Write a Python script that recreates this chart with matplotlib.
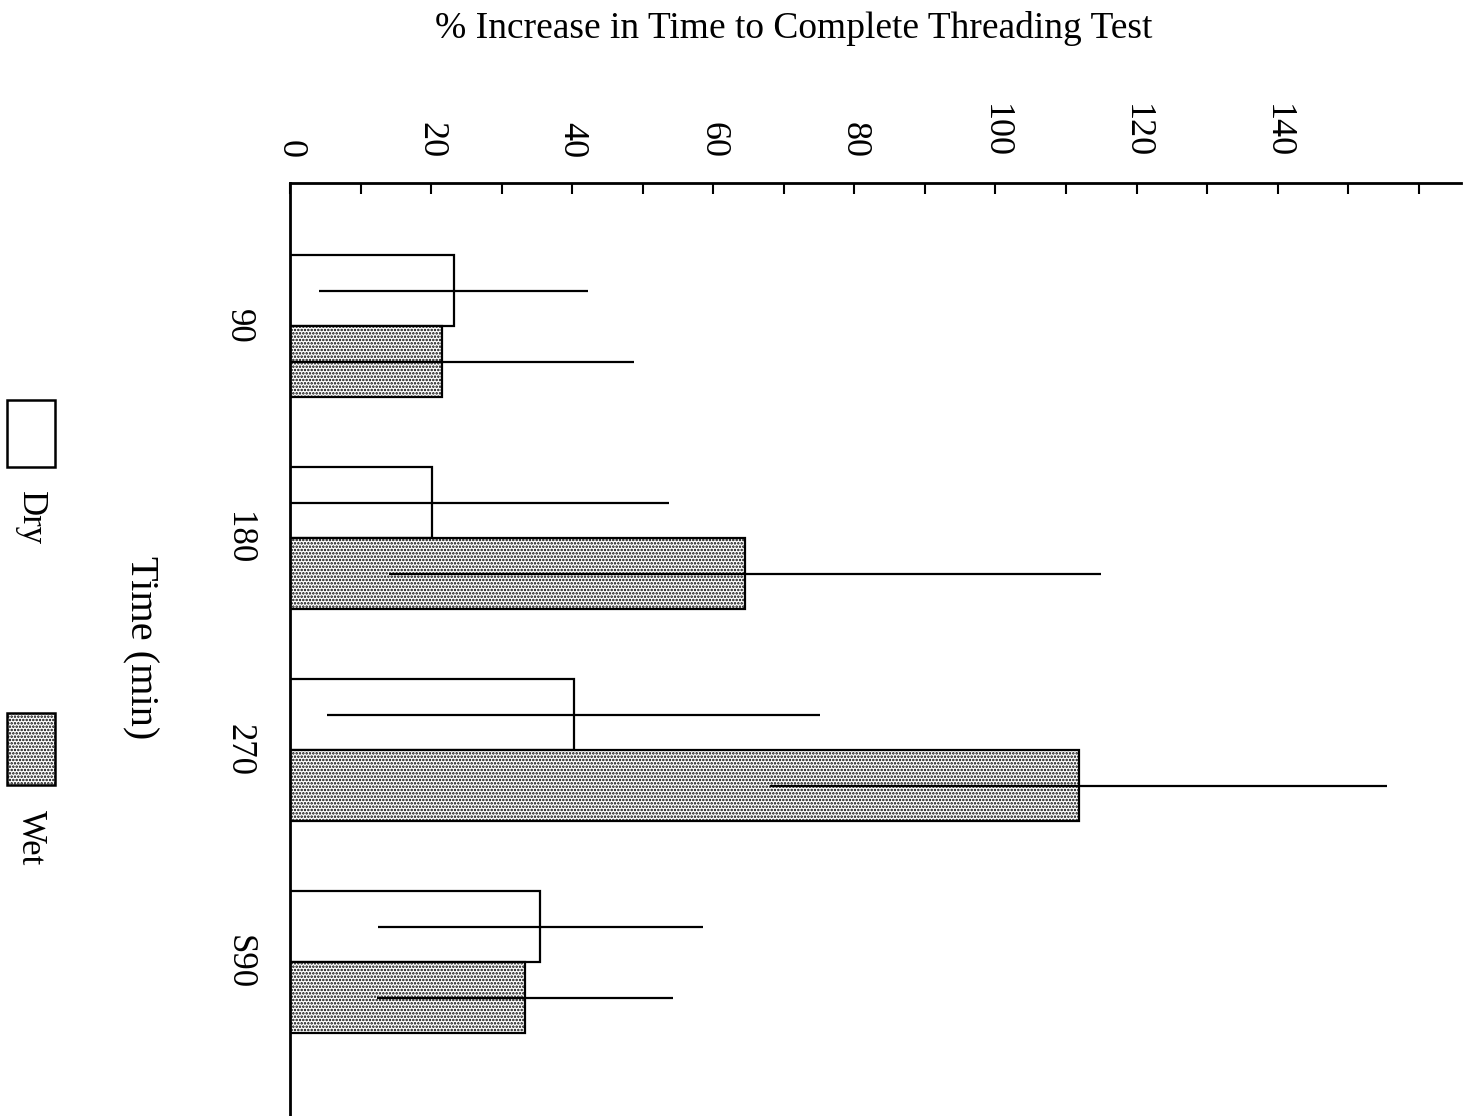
import matplotlib
matplotlib.use("Agg")
import matplotlib.pyplot as plt
from matplotlib.patches import Rectangle
import numpy as np

# Data: % increase in time to complete threading test
categories = ["90", "180", "270", "S90"]
dry_values = [23.2, 20.2, 40.2, 35.5]
wet_values = [21.6, 64.5, 111.8, 33.3]
dry_err = [19.1, 33.5, 35.0, 23.0]
wet_err = [27.1, 50.4, 43.7, 21.0]
x_ticks = [0, 20, 40, 60, 80, 100, 120, 140]

plt.rcParams["font.family"] = ["Liberation Serif", "DejaVu Serif"]
plt.rcParams["hatch.linewidth"] = 1.2
plt.rcParams["hatch.color"] = "#333333"
WET_HATCH = "....."

fig = plt.figure(figsize=(14.71, 11.16), dpi=100)
ax = fig.add_axes([290 / 1471, 0.0, (1461 - 290) / 1471, 1 - 183 / 1116])

pos = np.arange(len(categories))
h = 0.335
ax.barh(pos - h / 2, dry_values, height=h, facecolor="white",
        edgecolor="black", linewidth=1.6, zorder=2)
ax.barh(pos + h / 2, wet_values, height=h, facecolor="white",
        edgecolor="black", linewidth=1.6, hatch=WET_HATCH, zorder=2)
ax.errorbar(dry_values, pos - h / 2, xerr=dry_err, fmt="none",
            ecolor="black", elinewidth=1.6, capsize=0, zorder=3)
ax.errorbar(wet_values, pos + h / 2, xerr=wet_err, fmt="none",
            ecolor="black", elinewidth=1.6, capsize=0, zorder=3)

ax.set_xlim(0, 166)
ax.set_ylim(3.726, -0.675)

# top axis with ticks every 10, labels every 20
ax.xaxis.tick_top()
major = np.arange(0, 170, 10)
ax.set_xticks(major)
ax.set_xticklabels([str(int(v)) if int(v) in x_ticks else "" for v in major],
                   rotation=-90, fontsize=26)
ax.tick_params(axis="x", direction="in", length=8, width=1.5, pad=18)

ax.set_yticks(pos)
ax.set_yticklabels(categories, rotation=-90, fontsize=25, va="center")
ax.tick_params(axis="y", length=0, pad=25)

for side in ["right", "bottom"]:
    ax.spines[side].set_visible(False)
for side in ["top", "left"]:
    ax.spines[side].set_linewidth(2)

fig.text(794 / 1471, 1 - 28 / 1116, "% Increase in Time to Complete Threading Test",
         ha="center", va="center", fontsize=27)
fig.text(140 / 1471, 1 - 648 / 1116, "Time (min)", rotation=-90,
         ha="center", va="center", fontsize=29)

# legend
W, H = 1471, 1116
fig.patches.append(Rectangle((7 / W, 1 - 467 / H), 48 / W, 67 / H,
                             transform=fig.transFigure, facecolor="white",
                             edgecolor="black", linewidth=1.8))
fig.patches.append(Rectangle((7 / W, 1 - 785 / H), 48 / W, 72 / H,
                             transform=fig.transFigure, facecolor="white",
                             edgecolor="black", linewidth=1.8, hatch=WET_HATCH))
fig.text(30 / W, 1 - 518 / H, "Dry", rotation=-90, ha="center", va="center",
         fontsize=25)
fig.text(30 / W, 1 - 838 / H, "Wet", rotation=-90, ha="center", va="center",
         fontsize=25)

fig.savefig("out.png", dpi=100)
